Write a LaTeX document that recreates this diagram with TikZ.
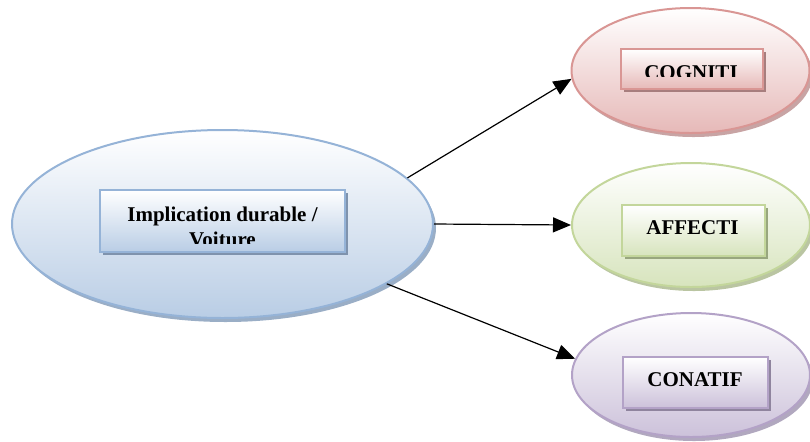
\documentclass[tikz,border=0pt]{standalone}
\usepackage{fontspec}
\setmainfont{Liberation Serif}
\usetikzlibrary{arrows.meta,shapes.geometric,shadows}

\definecolor{blueline}{HTML}{95B3D7}
\definecolor{bluefill}{HTML}{B9CDE5}
\definecolor{blueshade}{HTML}{8FA5C0}
\definecolor{bluedark}{HTML}{7F93AD}
\definecolor{redline}{HTML}{D99694}
\definecolor{redfill}{HTML}{E6B9B8}
\definecolor{redshade}{HTML}{C29A9A}
\definecolor{reddark}{HTML}{A77E7E}
\definecolor{greenline}{HTML}{C3D69B}
\definecolor{greenfill}{HTML}{D7E4BD}
\definecolor{greenshade}{HTML}{B2BF98}
\definecolor{greendark}{HTML}{98A67E}
\definecolor{purpleline}{HTML}{B3A2C7}
\definecolor{purplefill}{HTML}{CCC1DA}
\definecolor{purpleshade}{HTML}{A99EB8}
\definecolor{purpledark}{HTML}{8F849E}

\begin{document}
\begin{tikzpicture}[x=0.5pt, y=-0.5pt,
  oval/.style={ellipse, draw=#1line, line width=1pt, top color=white,
               bottom color=#1fill, inner sep=0pt,
               drop shadow={shadow xshift=1.5pt, shadow yshift=-2pt,
                            fill=#1shade, opacity=0.9}},
  tag/.style={rectangle, draw=#1line, line width=1pt, top color=white,
              bottom color=#1fill, inner sep=0pt,
              drop shadow={shadow xshift=1.5pt, shadow yshift=-1.5pt,
                           fill=#1dark, opacity=1}},
  lbl/.style={inner sep=0pt, align=center,
              font=\bfseries\fontsize{10.5}{12.5}\selectfont},
  arr/.style={-{Triangle[length=9pt,width=7.5pt]}, line width=0.6pt}
]
  \useasboundingbox (0,0) rectangle (810,441);

  % Ellipses
  \node[oval=blue, minimum width=210.5pt, minimum height=94pt] (impl) at (222.5,224) {};
  \node[oval=red, minimum width=119pt, minimum height=62.5pt] (cog) at (690.5,70.5) {};
  \node[oval=green, minimum width=119pt, minimum height=62pt] (aff) at (691,225) {};
  \node[oval=purple, minimum width=119pt, minimum height=62pt] (con) at (691,375) {};

  % Boxes
  \node[tag=blue, minimum width=122.5pt, minimum height=31pt] (implbox) at (222.5,221) {};
  \node[tag=red, minimum width=71pt, minimum height=20pt] (cogbox) at (692,69) {};
  \node[tag=green, minimum width=71.5pt, minimum height=25.5pt] (affbox) at (693.5,230.5) {};
  \node[tag=purple, minimum width=72.5pt, minimum height=25.5pt] (conbox) at (695.5,382.5) {};

  % Labels (cut by their boxes)
  \begin{scope}
    \clip (implbox.north west) rectangle ([yshift=5pt]implbox.south east);
    \node[lbl] (impltxt) at (222.5,227) {Implication durable /\\Voiture};
  \end{scope}
  \begin{scope}
    \clip (cogbox.north west) rectangle ([yshift=7pt]cogbox.south east);
    \node[lbl] (cogtxt) at (691,72.5) {COGNITI};
  \end{scope}
  \node[lbl] (afftxt) at (692.5,228) {AFFECTI};
  \node[lbl] (contxt) at (695,380) {CONATIF};

  % Paths
  \draw[arr] (impl.14) -- (cog.184);
  \draw[arr] (impl.east) -- (aff.west);
  \draw[arr] (impl.-20) -- (con.172);
\end{tikzpicture}
\end{document}
